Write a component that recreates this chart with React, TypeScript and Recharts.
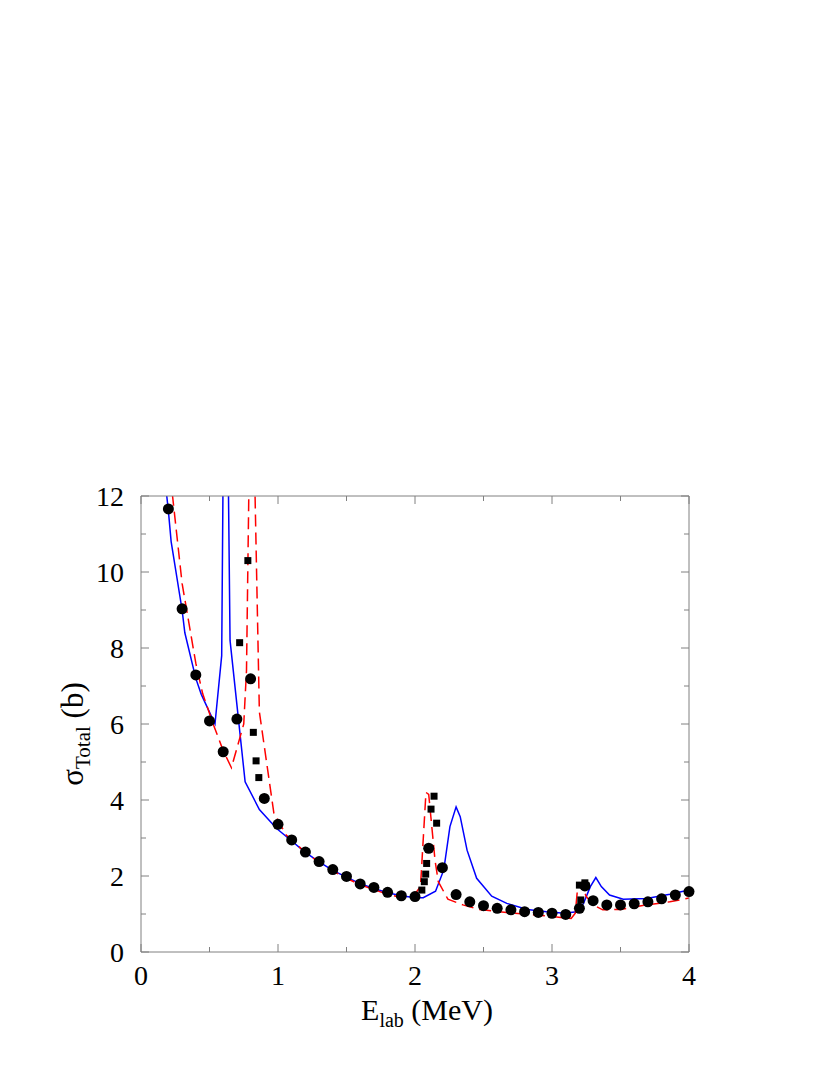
import { ComposedChart, Line, Scatter, XAxis, YAxis } from 'recharts';

const FONT = '"Liberation Serif", "Times New Roman", serif';
const AXIS_COLOR = '#808080';

const xMajorTicks = [0, 1, 2, 3, 4];
const xMinorTicks = [0.5, 1.5, 2.5, 3.5];
const yMajorTicks = [0, 2, 4, 6, 8, 10, 12];
const yMinorTicks = [1, 3, 5, 7, 9, 11];

// solid blue calculation [E, sigma]
const solidCurve: [number, number][] = [
  [0.17, 12.6], [0.2, 11.6], [0.22, 10.8], [0.3, 9.0], [0.32, 8.4], [0.4, 7.2], [0.44, 6.78],
  [0.54, 6.0], [0.589, 7.8], [0.615, 20], [0.65, 8.2], [0.76, 4.48], [0.864, 3.75], [0.99, 3.25],
  [1.1, 2.92], [1.2, 2.62], [1.3, 2.37], [1.4, 2.15], [1.5, 1.97], [1.6, 1.8], [1.7, 1.67],
  [1.8, 1.56], [1.9, 1.48], [2.0, 1.43], [2.06, 1.43], [2.15, 1.6], [2.21, 2.16], [2.255, 3.3],
  [2.3, 3.82], [2.33, 3.56], [2.38, 2.68], [2.45, 1.94], [2.56, 1.47], [2.67, 1.28], [2.82, 1.12],
  [2.96, 1.06], [3.09, 1.02], [3.18, 1.06], [3.23, 1.28], [3.28, 1.72], [3.32, 1.96], [3.36, 1.72],
  [3.42, 1.5], [3.52, 1.39], [3.69, 1.41], [3.86, 1.52], [4.0, 1.63],
];

// dashed red calculation
const dashedCurve: [number, number][] = [
  [0.2, 13.0], [0.3, 9.7], [0.4, 7.6], [0.45, 6.8], [0.53, 5.97], [0.6, 5.3], [0.66, 4.85],
  [0.75, 6.0], [0.77, 7.4], [0.805, 17], [0.864, 6.32], [0.97, 3.65], [1.06, 3.08], [1.2, 2.62],
  [1.3, 2.36], [1.4, 2.13], [1.5, 1.94], [1.6, 1.77], [1.7, 1.64], [1.8, 1.52], [1.9, 1.43],
  [1.99, 1.48], [2.04, 1.72], [2.08, 4.2], [2.1, 4.15], [2.146, 2.42], [2.17, 1.85], [2.24, 1.39],
  [2.35, 1.24], [2.47, 1.12], [2.72, 1.02], [2.96, 0.95], [3.14, 0.88], [3.17, 1.02], [3.19, 1.81],
  [3.21, 1.82], [3.25, 1.46], [3.3, 1.24], [3.37, 1.11], [3.5, 1.12], [3.69, 1.24], [3.86, 1.32],
  [4.0, 1.42],
];

// measured data, circles
const circlePoints: [number, number][] = [
  [0.2, 11.66], [0.3, 9.03], [0.4, 7.29], [0.5, 6.08], [0.6, 5.27], [0.7, 6.13], [0.8, 7.19],
  [0.9, 4.04], [1.0, 3.36], [1.1, 2.95], [1.2, 2.63], [1.3, 2.38], [1.4, 2.17], [1.5, 1.99],
  [1.6, 1.79], [1.7, 1.7], [1.8, 1.57], [1.9, 1.48], [2.0, 1.46], [2.1, 2.73], [2.2, 2.22],
  [2.3, 1.51], [2.4, 1.32], [2.5, 1.22], [2.6, 1.15], [2.7, 1.11], [2.8, 1.06], [2.9, 1.04],
  [3.0, 1.02], [3.1, 0.99], [3.2, 1.15], [3.24, 1.74], [3.3, 1.35], [3.4, 1.24], [3.5, 1.24],
  [3.6, 1.27], [3.7, 1.32], [3.8, 1.4], [3.9, 1.5], [4.0, 1.59],
];

// measured data, squares
const squarePoints: [number, number][] = [
  [0.72, 8.14], [0.78, 10.3], [0.82, 5.78], [0.84, 5.03], [0.86, 4.59],
  [2.05, 1.63], [2.068, 1.85], [2.078, 2.05], [2.085, 2.33], [2.117, 3.76], [2.139, 4.1], [2.158, 3.39],
  [3.21, 1.37], [3.2, 1.76], [3.24, 1.82], [3.25, 1.74],
];

const rows = (pts: [number, number][]) => pts.map(([x, y]) => ({ x, y }));

const xTicks = [...xMajorTicks, ...xMinorTicks].sort((a, b) => a - b);
const yTicks = [...yMajorTicks, ...yMinorTicks].sort((a, b) => a - b);

const BottomTick = (props: any) => {
  const { x, y, payload } = props;
  const major = xMajorTicks.includes(payload.value);
  return (
    <g>
      <line x1={x} y1={y} x2={x} y2={y - (major ? 8 : 5)} stroke={AXIS_COLOR} />
      {major && (
        <text x={x} y={y + 33} textAnchor="middle" fontFamily={FONT} fontSize={28} fill="#000">
          {payload.value}
        </text>
      )}
    </g>
  );
};

const TopTick = (props: any) => {
  const { x, y, payload } = props;
  const major = xMajorTicks.includes(payload.value);
  return <line x1={x} y1={y} x2={x} y2={y + (major ? 8 : 5)} stroke={AXIS_COLOR} />;
};

const LeftTick = (props: any) => {
  const { x, y, payload } = props;
  const major = yMajorTicks.includes(payload.value);
  return (
    <g>
      <line x1={x} y1={y} x2={x + (major ? 8 : 5)} y2={y} stroke={AXIS_COLOR} />
      {major && (
        <text x={x - 17} y={y + 10} textAnchor="end" fontFamily={FONT} fontSize={28} fill="#000">
          {payload.value}
        </text>
      )}
    </g>
  );
};

const RightTick = (props: any) => {
  const { x, y, payload } = props;
  const major = yMajorTicks.includes(payload.value);
  return <line x1={x} y1={y} x2={x - (major ? 8 : 5)} y2={y} stroke={AXIS_COLOR} />;
};

const XLabel = (props: any) => {
  const { x, y, width } = props.viewBox;
  return (
    <text x={x + width / 2 + 12} y={y + 68} textAnchor="middle" fontFamily={FONT} fontSize={30} fill="#000">
      E<tspan fontSize={20} dy={7}>lab</tspan>
      <tspan dy={-7}> (MeV)</tspan>
    </text>
  );
};

const YLabel = (props: any) => {
  const { x, y, height } = props.viewBox;
  const cx = x + 75;
  const cy = y + height / 2 + 10;
  return (
    <text
      x={cx}
      y={cy}
      transform={`rotate(-90, ${cx}, ${cy})`}
      textAnchor="middle"
      fontFamily={FONT}
      fontSize={31}
      fill="#000"
    >
      σ<tspan fontSize={21} dy={7}>Total</tspan>
      <tspan dy={-7}> (b)</tspan>
    </text>
  );
};

const CircleDot = (props: any) => <circle cx={props.cx} cy={props.cy} r={5.5} fill="#000" />;
const SquareDot = (props: any) => <rect x={props.cx - 3.5} y={props.cy - 3.5} width={7} height={7} fill="#000" />;

export default function App() {
  return (
    <div style={{ width: 822, height: 1067 }}>
      <ComposedChart width={822} height={1067} margin={{ top: 487, right: 140, bottom: 63, left: 0 }}>
        <XAxis
          xAxisId="main"
          dataKey="x"
          type="number"
          domain={[0, 4]}
          ticks={xTicks}
          interval={0}
          height={60}
          tickSize={0}
          tickMargin={0}
          tickLine={false}
          stroke={AXIS_COLOR}
          tick={<BottomTick />}
          label={{ content: (p: any) => <XLabel {...p} /> }}
        />
        <XAxis
          xAxisId="top"
          orientation="top"
          dataKey="x"
          type="number"
          domain={[0, 4]}
          ticks={xTicks}
          interval={0}
          height={1}
          tickSize={0}
          tickMargin={0}
          tickLine={false}
          stroke={AXIS_COLOR}
          tick={<TopTick />}
        />
        <YAxis
          yAxisId="main"
          type="number"
          domain={[0, 12]}
          ticks={yTicks}
          interval={0}
          width={133}
          tickSize={0}
          tickMargin={0}
          tickLine={false}
          stroke={AXIS_COLOR}
          tick={<LeftTick />}
          label={{ content: (p: any) => <YLabel {...p} /> }}
        />
        <YAxis
          yAxisId="right"
          orientation="right"
          type="number"
          domain={[0, 12]}
          allowDataOverflow
          ticks={yTicks}
          interval={0}
          width={1}
          tickSize={0}
          tickMargin={0}
          tickLine={false}
          stroke={AXIS_COLOR}
          tick={<RightTick />}
        />
        <Line
          xAxisId="main"
          yAxisId="right"
          data={rows(solidCurve)}
          dataKey="y"
          type="linear"
          stroke="#0000ff"
          strokeWidth={1.5}
          dot={false}
          isAnimationActive={false}
        />
        <Line
          xAxisId="main"
          yAxisId="right"
          data={rows(dashedCurve)}
          dataKey="y"
          type="linear"
          stroke="#ff0000"
          strokeWidth={1.5}
          strokeDasharray="12 6"
          dot={false}
          isAnimationActive={false}
        />
        <Scatter
          xAxisId="top"
          yAxisId="main"
          data={rows(circlePoints)}
          dataKey="y"
          shape={<CircleDot />}
          isAnimationActive={false}
        />
        <Scatter
          xAxisId="top"
          yAxisId="main"
          data={rows(squarePoints)}
          dataKey="y"
          shape={<SquareDot />}
          isAnimationActive={false}
        />
      </ComposedChart>
    </div>
  );
}
